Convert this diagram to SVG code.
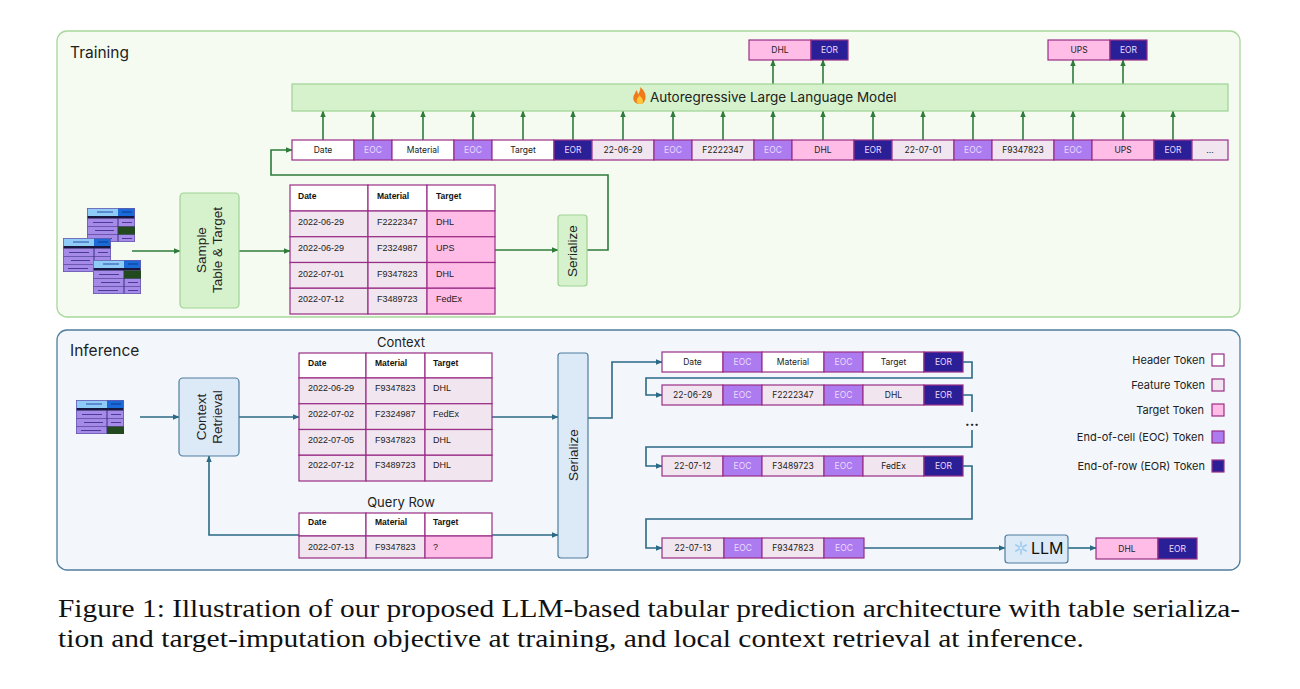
<svg xmlns="http://www.w3.org/2000/svg" width="1300" height="689" viewBox="0 0 1300 689">
<style>
.hdr{fill:#ffffff;stroke:#9a2d86;stroke-width:1.2}
.feat{fill:#f1e6ef;stroke:#9a2d86;stroke-width:1.2}
.tgt{fill:#ffbce6;stroke:#9a2d86;stroke-width:1.2}
.eoc{fill:#ad7bf0;stroke:#9a2d86;stroke-width:1.2}
.eor{fill:#2b1f98;stroke:#9a2d86;stroke-width:1.2}
.t{font-family:Inter,"Noto Sans",sans-serif;font-size:8.5px;fill:#222;text-anchor:middle}
.tl{font-family:Inter,"Noto Sans",sans-serif;font-size:8.5px;fill:#eadcff;text-anchor:middle}
.tb{font-family:"Liberation Sans",Arial,sans-serif;font-size:9px;fill:#222}
.tbh{font-family:"Liberation Sans",Arial,sans-serif;font-size:8.5px;font-weight:bold;fill:#111}
.lab{font-family:Inter,"Noto Sans",sans-serif;font-size:15.5px;fill:#222}
.box{font-family:"Liberation Sans",Arial,sans-serif;font-size:13.5px;fill:#222;text-anchor:middle}
.leg{font-family:Inter,"Noto Sans",sans-serif;font-size:11px;fill:#222;text-anchor:end}
.cg{fill:none;stroke:#2e7b3a;stroke-width:1.6}
.cb{fill:none;stroke:#2a6a86;stroke-width:1.6}
.gbox{fill:#d6f2cc;stroke:#9dd393;stroke-width:1.2}
.bbox{fill:#dce9f6;stroke:#4e7d9e;stroke-width:1.2}
.cap{font-family:"Liberation Serif","Times New Roman",serif;font-size:25.5px;fill:#111}
</style>
<defs>
<marker id="ag" viewBox="0 0 10 10" refX="9" refY="5" markerWidth="7" markerHeight="7" orient="auto" markerUnits="userSpaceOnUse"><path d="M0,1 L10,5 L0,9 z" fill="#2e7b3a"/></marker>
<marker id="ab" viewBox="0 0 10 10" refX="9" refY="5" markerWidth="7" markerHeight="7" orient="auto" markerUnits="userSpaceOnUse"><path d="M0,1 L10,5 L0,9 z" fill="#2a6a86"/></marker>
<g id="tbl">
<rect x="0" y="0" width="48" height="34" fill="#a58ae8"/>
<rect x="0" y="0" width="31" height="8" fill="#8fcbf7"/>
<rect x="31" y="0" width="17" height="8" fill="#1a6ad8"/>
<rect x="0" y="8" width="48" height="2.5" fill="#16163e"/>
<line x1="10" y1="4" x2="26" y2="4" stroke="#2a4aa8" stroke-width="1"/>
<line x1="35" y1="4" x2="45" y2="4" stroke="#0c3a90" stroke-width="1"/>
<line x1="0" y1="18.5" x2="48" y2="18.5" stroke="#5a4aa0" stroke-width="0.8"/>
<line x1="0" y1="26.5" x2="48" y2="26.5" stroke="#5a4aa0" stroke-width="0.8"/>
<line x1="31" y1="10" x2="31" y2="34" stroke="#3a2e80" stroke-width="1"/>
<line x1="6" y1="14.5" x2="26" y2="14.5" stroke="#4a3a9a" stroke-width="1"/>
<line x1="8" y1="22.5" x2="27" y2="22.5" stroke="#4a3a9a" stroke-width="1"/>
<line x1="5" y1="30.5" x2="25" y2="30.5" stroke="#4a3a9a" stroke-width="1"/>
<line x1="35" y1="14.5" x2="45" y2="14.5" stroke="#4a3a9a" stroke-width="1"/>
<line x1="35" y1="22.5" x2="45" y2="22.5" stroke="#4a3a9a" stroke-width="1"/>
<line x1="35" y1="30.5" x2="45" y2="30.5" stroke="#4a3a9a" stroke-width="1"/>
<rect x="0.4" y="0.4" width="47.2" height="33.2" fill="none" stroke="#6a5ab0" stroke-width="0.8"/>
</g>
</defs>

<!-- panels -->
<g id="training-panel">
<rect x="57" y="31" width="1183" height="286" rx="10" fill="#f5fbf1" stroke="#a6d89b" stroke-width="1.3"/>
<text class="lab" x="70" y="58">Training</text>
</g>
<g id="inference-panel">
<rect x="57" y="330" width="1183" height="240" rx="10" fill="#f3f7fb" stroke="#4f7d9f" stroke-width="1.3"/>
<text class="lab" x="70" y="356">Inference</text>
</g>

<!-- connectors -->
<g id="connectors">
<line class="cg" x1="132" y1="251" x2="180" y2="251" marker-end="url(#ag)"/>
<line class="cg" x1="239" y1="251" x2="290" y2="251" marker-end="url(#ag)"/>
<line class="cg" x1="495" y1="250" x2="558" y2="250" marker-end="url(#ag)"/>
<path class="cg" d="M587,250 H608 V175 H271 V150 H292" marker-end="url(#ag)"/>
<g id="up-arrows">
<line class="cg" x1="323" y1="140" x2="323" y2="111" marker-end="url(#ag)"/>
<line class="cg" x1="373" y1="140" x2="373" y2="111" marker-end="url(#ag)"/>
<line class="cg" x1="423" y1="140" x2="423" y2="111" marker-end="url(#ag)"/>
<line class="cg" x1="473" y1="140" x2="473" y2="111" marker-end="url(#ag)"/>
<line class="cg" x1="523" y1="140" x2="523" y2="111" marker-end="url(#ag)"/>
<line class="cg" x1="573" y1="140" x2="573" y2="111" marker-end="url(#ag)"/>
<line class="cg" x1="623" y1="140" x2="623" y2="111" marker-end="url(#ag)"/>
<line class="cg" x1="673" y1="140" x2="673" y2="111" marker-end="url(#ag)"/>
<line class="cg" x1="723" y1="140" x2="723" y2="111" marker-end="url(#ag)"/>
<line class="cg" x1="773" y1="140" x2="773" y2="111" marker-end="url(#ag)"/>
<line class="cg" x1="823" y1="140" x2="823" y2="111" marker-end="url(#ag)"/>
<line class="cg" x1="873" y1="140" x2="873" y2="111" marker-end="url(#ag)"/>
<line class="cg" x1="923" y1="140" x2="923" y2="111" marker-end="url(#ag)"/>
<line class="cg" x1="973" y1="140" x2="973" y2="111" marker-end="url(#ag)"/>
<line class="cg" x1="1023" y1="140" x2="1023" y2="111" marker-end="url(#ag)"/>
<line class="cg" x1="1073" y1="140" x2="1073" y2="111" marker-end="url(#ag)"/>
<line class="cg" x1="1123" y1="140" x2="1123" y2="111" marker-end="url(#ag)"/>
<line class="cg" x1="1173" y1="140" x2="1173" y2="111" marker-end="url(#ag)"/>
<line class="cg" x1="773" y1="84" x2="773" y2="60" marker-end="url(#ag)"/>
<line class="cg" x1="823" y1="84" x2="823" y2="60" marker-end="url(#ag)"/>
<line class="cg" x1="1073" y1="84" x2="1073" y2="60" marker-end="url(#ag)"/>
<line class="cg" x1="1123" y1="84" x2="1123" y2="60" marker-end="url(#ag)"/>
</g>
<line class="cb" x1="140" y1="417" x2="179" y2="417" marker-end="url(#ab)"/>
<line class="cb" x1="239" y1="417" x2="299" y2="417" marker-end="url(#ab)"/>
<path class="cb" d="M299,535 H209 V456" marker-end="url(#ab)"/>
<line class="cb" x1="492" y1="417" x2="558" y2="417" marker-end="url(#ab)"/>
<line class="cb" x1="492" y1="535" x2="558" y2="535" marker-end="url(#ab)"/>
<path class="cb" d="M588,418 H612 V362 H662" marker-end="url(#ab)"/>
<path class="cb" d="M963,362 H972 V378 H646 V395 H662" marker-end="url(#ab)"/>
<path class="cb" d="M963,395 H972 V412"/>
<path class="cb" d="M972,430 V447 H646 V466 H662" marker-end="url(#ab)"/>
<path class="cb" d="M963,466 H972 V519 H646 V548 H662" marker-end="url(#ab)"/>
<line class="cb" x1="864" y1="548" x2="1005" y2="548" marker-end="url(#ab)"/>
<line class="cb" x1="1068" y1="548" x2="1096" y2="548" marker-end="url(#ab)"/>
</g>
<text x="972" y="426" font-family="Inter,'Noto Sans',sans-serif" font-size="14" font-weight="bold" fill="#222" text-anchor="middle">...</text>

<!-- training nodes -->
<g id="table-icons">
<use href="#tbl" x="87" y="208"/>
<rect x="118" y="226.5" width="17" height="8" fill="#234a1e"/>
<use href="#tbl" x="63" y="238"/>
<use href="#tbl" x="93" y="260"/>
<rect x="124" y="270.5" width="17" height="8" fill="#234a1e"/>
</g>
<g id="sample-node">
<rect class="gbox" x="180" y="193" width="59" height="115" rx="4"/>
<text class="box" transform="translate(206,250) rotate(-90)">Sample</text>
<text class="box" transform="translate(222,250) rotate(-90)">Table &amp; Target</text>
</g>
<g id="train-table">
<rect class="hdr" x="290" y="185" width="78" height="26"/>
<rect class="hdr" x="368" y="185" width="59" height="26"/>
<rect class="hdr" x="427" y="185" width="68" height="26"/>
<rect class="feat" x="290" y="211" width="78" height="25.75"/><rect class="feat" x="368" y="211" width="59" height="25.75"/><rect class="tgt" x="427" y="211" width="68" height="25.75"/>
<rect class="feat" x="290" y="236.75" width="78" height="25.75"/><rect class="feat" x="368" y="236.75" width="59" height="25.75"/><rect class="tgt" x="427" y="236.75" width="68" height="25.75"/>
<rect class="feat" x="290" y="262.5" width="78" height="25.75"/><rect class="feat" x="368" y="262.5" width="59" height="25.75"/><rect class="tgt" x="427" y="262.5" width="68" height="25.75"/>
<rect class="feat" x="290" y="288.25" width="78" height="25.75"/><rect class="feat" x="368" y="288.25" width="59" height="25.75"/><rect class="tgt" x="427" y="288.25" width="68" height="25.75"/>
<text class="tbh" x="298" y="199">Date</text><text class="tbh" x="377" y="199">Material</text><text class="tbh" x="436" y="199">Target</text>
<text class="tb" x="298" y="225">2022-06-29</text><text class="tb" x="377" y="225">F2222347</text><text class="tb" x="436" y="225">DHL</text>
<text class="tb" x="298" y="251">2022-06-29</text><text class="tb" x="377" y="251">F2324987</text><text class="tb" x="436" y="251">UPS</text>
<text class="tb" x="298" y="277">2022-07-01</text><text class="tb" x="377" y="277">F9347823</text><text class="tb" x="436" y="277">DHL</text>
<text class="tb" x="298" y="302">2022-07-12</text><text class="tb" x="377" y="302">F3489723</text><text class="tb" x="436" y="302">FedEx</text>
</g>
<g id="serialize-train">
<rect class="gbox" x="558" y="215" width="29" height="71" rx="3"/>
<text class="box" transform="translate(577,251) rotate(-90)">Serialize</text>
</g>
<g id="llm-train">
<rect x="292" y="84" width="936" height="27" fill="#d6f2cc" stroke="#9dd393" stroke-width="1.2"/>
<path d="M640,104 C634,104 632,99 634,95 C635,93 636,92 636,90 C638,92 638,94 638,95 C639,92 641,90 640,87 C644,90 647,95 645,100 C644,103 642,104 640,104 Z" fill="#f07a1a"/>
<path d="M640,104 C637,104 636,101 637,99 C638,97 639,97 639,95 C641,97 643,99 643,101 C643,103 642,104 640,104 Z" fill="#ffc83a"/>
<text x="650" y="102" font-family="Inter,'Noto Sans',sans-serif" font-size="13.5" fill="#222">Autoregressive Large Language Model</text>
</g>
<g id="train-tokens">
<rect class="hdr" x="292" y="140" width="62" height="20"/><text class="t" x="323" y="153">Date</text>
<rect class="eoc" x="354" y="140" width="38" height="20"/><text class="tl" x="373" y="153">EOC</text>
<rect class="hdr" x="392" y="140" width="62" height="20"/><text class="t" x="423" y="153">Material</text>
<rect class="eoc" x="454" y="140" width="38" height="20"/><text class="tl" x="473" y="153">EOC</text>
<rect class="hdr" x="492" y="140" width="62" height="20"/><text class="t" x="523" y="153">Target</text>
<rect class="eor" x="554" y="140" width="38" height="20"/><text class="tl" x="573" y="153">EOR</text>
<rect class="feat" x="592" y="140" width="62" height="20"/><text class="t" x="623" y="153">22-06-29</text>
<rect class="eoc" x="654" y="140" width="38" height="20"/><text class="tl" x="673" y="153">EOC</text>
<rect class="feat" x="692" y="140" width="62" height="20"/><text class="t" x="723" y="153">F2222347</text>
<rect class="eoc" x="754" y="140" width="38" height="20"/><text class="tl" x="773" y="153">EOC</text>
<rect class="tgt" x="792" y="140" width="62" height="20"/><text class="t" x="823" y="153">DHL</text>
<rect class="eor" x="854" y="140" width="38" height="20"/><text class="tl" x="873" y="153">EOR</text>
<rect class="feat" x="892" y="140" width="62" height="20"/><text class="t" x="923" y="153">22-07-01</text>
<rect class="eoc" x="954" y="140" width="38" height="20"/><text class="tl" x="973" y="153">EOC</text>
<rect class="feat" x="992" y="140" width="62" height="20"/><text class="t" x="1023" y="153">F9347823</text>
<rect class="eoc" x="1054" y="140" width="38" height="20"/><text class="tl" x="1073" y="153">EOC</text>
<rect class="tgt" x="1092" y="140" width="62" height="20"/><text class="t" x="1123" y="153">UPS</text>
<rect class="eor" x="1154" y="140" width="38" height="20"/><text class="tl" x="1173" y="153">EOR</text>
<rect class="feat" x="1192" y="140" width="36" height="20"/><text class="t" x="1210" y="153">...</text>
</g>
<g id="out-dhl">
<rect class="tgt" x="749" y="40" width="62" height="20"/><text class="t" x="780" y="53">DHL</text>
<rect class="eor" x="811" y="40" width="37" height="20"/><text class="tl" x="829.5" y="53">EOR</text>
</g>
<g id="out-ups">
<rect class="tgt" x="1048" y="40" width="62" height="20"/><text class="t" x="1079" y="53">UPS</text>
<rect class="eor" x="1110" y="40" width="37" height="20"/><text class="tl" x="1128.5" y="53">EOR</text>
</g>

<!-- inference nodes -->
<g id="inf-icon">
<use href="#tbl" x="76" y="400"/>
<rect x="107" y="426.5" width="17" height="7.5" fill="#234a1e"/>
</g>
<g id="context-retrieval">
<rect class="bbox" x="179" y="378" width="60" height="78" rx="4"/>
<text class="box" font-size="14" transform="translate(206,417) rotate(-90)">Context</text>
<text class="box" font-size="14" transform="translate(222,417) rotate(-90)">Retrieval</text>
</g>
<g id="context-table">
<text x="401" y="347" font-family="Inter,'Noto Sans',sans-serif" font-size="13" fill="#222" text-anchor="middle">Context</text>
<rect class="hdr" x="299" y="353" width="67" height="25"/><rect class="hdr" x="366" y="353" width="59" height="25"/><rect class="hdr" x="425" y="353" width="67" height="25"/>
<rect class="feat" x="299" y="378" width="67" height="25.75"/><rect class="feat" x="366" y="378" width="59" height="25.75"/><rect class="feat" x="425" y="378" width="67" height="25.75"/>
<rect class="feat" x="299" y="403.75" width="67" height="25.75"/><rect class="feat" x="366" y="403.75" width="59" height="25.75"/><rect class="feat" x="425" y="403.75" width="67" height="25.75"/>
<rect class="feat" x="299" y="429.5" width="67" height="25.75"/><rect class="feat" x="366" y="429.5" width="59" height="25.75"/><rect class="feat" x="425" y="429.5" width="67" height="25.75"/>
<rect class="feat" x="299" y="455.25" width="67" height="25.75"/><rect class="feat" x="366" y="455.25" width="59" height="25.75"/><rect class="feat" x="425" y="455.25" width="67" height="25.75"/>
<text class="tbh" x="308" y="366">Date</text><text class="tbh" x="375" y="366">Material</text><text class="tbh" x="433" y="366">Target</text>
<text class="tb" x="308" y="391">2022-06-29</text><text class="tb" x="375" y="391">F9347823</text><text class="tb" x="433" y="391">DHL</text>
<text class="tb" x="308" y="417">2022-07-02</text><text class="tb" x="375" y="417">F2324987</text><text class="tb" x="433" y="417">FedEx</text>
<text class="tb" x="308" y="443">2022-07-05</text><text class="tb" x="375" y="443">F9347823</text><text class="tb" x="433" y="443">DHL</text>
<text class="tb" x="308" y="468">2022-07-12</text><text class="tb" x="375" y="468">F3489723</text><text class="tb" x="433" y="468">DHL</text>
</g>
<g id="query-table">
<text x="401" y="507" font-family="Inter,'Noto Sans',sans-serif" font-size="13" fill="#222" text-anchor="middle">Query Row</text>
<rect class="hdr" x="299" y="513" width="67" height="23"/><rect class="hdr" x="366" y="513" width="59" height="23"/><rect class="hdr" x="425" y="513" width="67" height="23"/>
<rect class="feat" x="299" y="536" width="67" height="22"/><rect class="feat" x="366" y="536" width="59" height="22"/><rect class="tgt" x="425" y="536" width="67" height="22"/>
<text class="tbh" x="308" y="525">Date</text><text class="tbh" x="375" y="525">Material</text><text class="tbh" x="433" y="525">Target</text>
<text class="tb" x="308" y="550">2022-07-13</text><text class="tb" x="375" y="550">F9347823</text><text class="tb" x="433" y="550">?</text>
</g>
<g id="serialize-inf">
<rect class="bbox" x="558" y="353" width="30" height="205" rx="3"/>
<text class="box" transform="translate(578,455) rotate(-90)">Serialize</text>
</g>
<g id="inf-row1">
<rect class="hdr" x="662" y="352" width="61" height="20"/><text class="t" x="692.5" y="365">Date</text>
<rect class="eoc" x="723" y="352" width="39" height="20"/><text class="tl" x="742.5" y="365">EOC</text>
<rect class="hdr" x="762" y="352" width="62" height="20"/><text class="t" x="793" y="365">Material</text>
<rect class="eoc" x="824" y="352" width="39" height="20"/><text class="tl" x="843.5" y="365">EOC</text>
<rect class="hdr" x="863" y="352" width="61" height="20"/><text class="t" x="893.5" y="365">Target</text>
<rect class="eor" x="924" y="352" width="39" height="20"/><text class="tl" x="943.5" y="365">EOR</text>
</g>
<g id="inf-row2">
<rect class="feat" x="662" y="385" width="61" height="20"/><text class="t" x="692.5" y="398">22-06-29</text>
<rect class="eoc" x="723" y="385" width="39" height="20"/><text class="tl" x="742.5" y="398">EOC</text>
<rect class="feat" x="762" y="385" width="62" height="20"/><text class="t" x="793" y="398">F2222347</text>
<rect class="eoc" x="824" y="385" width="39" height="20"/><text class="tl" x="843.5" y="398">EOC</text>
<rect class="feat" x="863" y="385" width="61" height="20"/><text class="t" x="893.5" y="398">DHL</text>
<rect class="eor" x="924" y="385" width="39" height="20"/><text class="tl" x="943.5" y="398">EOR</text>
</g>
<g id="inf-row3">
<rect class="feat" x="662" y="456" width="61" height="20"/><text class="t" x="692.5" y="469">22-07-12</text>
<rect class="eoc" x="723" y="456" width="39" height="20"/><text class="tl" x="742.5" y="469">EOC</text>
<rect class="feat" x="762" y="456" width="62" height="20"/><text class="t" x="793" y="469">F3489723</text>
<rect class="eoc" x="824" y="456" width="39" height="20"/><text class="tl" x="843.5" y="469">EOC</text>
<rect class="feat" x="863" y="456" width="61" height="20"/><text class="t" x="893.5" y="469">FedEx</text>
<rect class="eor" x="924" y="456" width="39" height="20"/><text class="tl" x="943.5" y="469">EOR</text>
</g>
<g id="inf-row4">
<rect class="feat" x="662" y="538" width="62" height="20"/><text class="t" x="693" y="551">22-07-13</text>
<rect class="eoc" x="724" y="538" width="38" height="20"/><text class="tl" x="743" y="551">EOC</text>
<rect class="feat" x="762" y="538" width="62" height="20"/><text class="t" x="793" y="551">F9347823</text>
<rect class="eoc" x="824" y="538" width="40" height="20"/><text class="tl" x="844" y="551">EOC</text>
</g>
<g id="llm-inf">
<rect class="bbox" x="1005" y="535" width="63" height="28" rx="3"/>
<g stroke="#9fcbef" stroke-width="1.6" stroke-linecap="round">
<line x1="1021" y1="542" x2="1021" y2="554"/>
<line x1="1015.8" y1="545" x2="1026.2" y2="551"/>
<line x1="1015.8" y1="551" x2="1026.2" y2="545"/>
</g>
<circle cx="1021" cy="548" r="2" fill="#dce9f6" stroke="#9fcbef" stroke-width="1"/>
<text x="1031" y="554" font-family="Inter,'Noto Sans',sans-serif" font-size="16" fill="#111">LLM</text>
</g>
<g id="inf-out">
<rect class="tgt" x="1096" y="538" width="62" height="21"/><text class="t" x="1127" y="551.5">DHL</text>
<rect class="eor" x="1158" y="538" width="39" height="21"/><text class="tl" x="1177.5" y="551.5">EOR</text>
</g>
<g id="legend">
<text class="leg" x="1205" y="364">Header Token</text><rect class="hdr" x="1212" y="354" width="12" height="12"/>
<text class="leg" x="1205" y="389">Feature Token</text><rect class="feat" x="1212" y="379" width="12" height="12"/>
<text class="leg" x="1204" y="414">Target Token</text><rect class="tgt" x="1212" y="404" width="12" height="12"/>
<text class="leg" x="1204" y="441">End-of-cell (EOC) Token</text><rect class="eoc" x="1212" y="431" width="12" height="12"/>
<text class="leg" x="1205" y="470">End-of-row (EOR) Token</text><rect class="eor" x="1212" y="460" width="12" height="12"/>
</g>

<!-- caption -->
<text class="cap" x="58" y="617" textLength="1182" lengthAdjust="spacingAndGlyphs">Figure 1: Illustration of our proposed LLM-based tabular prediction architecture with table serializa-</text>
<text class="cap" x="58" y="647" textLength="1026" lengthAdjust="spacingAndGlyphs">tion and target-imputation objective at training, and local context retrieval at inference.</text>
</svg>
